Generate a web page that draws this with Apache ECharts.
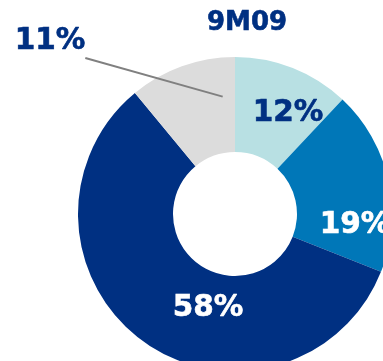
<!DOCTYPE html>
<html>
<head>
<meta charset="utf-8">
<style>
  html, body { margin: 0; padding: 0; background: #ffffff; }
  #chart { width: 383px; height: 361px; }
</style>
<script src="https://cdn.jsdelivr.net/npm/echarts@6/dist/echarts.min.js"></script>
</head>
<body>
<div id="chart"></div>
<script>
// Share breakdown for 9M09
const periodTitle = '9M09';
const segmentNames = ['Segment A', 'Segment B', 'Segment C', 'Segment D'];
const segmentShares = [12, 19, 58, 11];

const palette = ['#b8e0e3', '#0077b8', '#003082', '#dcdcdc'];
const labelColors = ['#003082', '#ffffff', '#ffffff', '#003082'];

// Ring geometry (pixels)
const cx = 235, cy = 214, rInner = 62, rOuter = 157;

// Hand-placed label centres, relative to the ring centre
const labelOffsets = [[53, -101], [120, 11], [-27, 94], [-185, -173]];

const font = '"DejaVu Sans", Verdana, sans-serif';
const labelSize = 29.5;

const chart = echarts.init(document.getElementById('chart'), null, { renderer: 'canvas' });

// Leader line for the small outside label: from the label's lower-right
// corner to a point inside its slice (6 degrees left of twelve o'clock).
const outsideIdx = 3;
const textWidth = echarts.format.getTextRect
  ? echarts.format.getTextRect(segmentShares[outsideIdx] + '%', 'bold ' + labelSize + 'px ' + font).width
  : 70;
const lineStart = [cx + labelOffsets[outsideIdx][0] + textWidth / 2, cy + labelOffsets[outsideIdx][1] + 17];
const endAngle = (90 + 6) * Math.PI / 180;
const lineEnd = [cx + Math.cos(endAngle) * 118, cy - Math.sin(endAngle) * 118];

chart.setOption({
  animation: false,
  title: {
    text: periodTitle,
    left: 242,
    top: 5,
    textAlign: 'center',
    textStyle: {
      fontFamily: font, fontWeight: 'bold', fontSize: 26, color: '#003082',
      textBorderColor: '#003082', textBorderWidth: 0.6
    }
  },
  graphic: [{
    type: 'polyline',
    z: 10,
    silent: true,
    shape: { points: [lineStart, lineEnd] },
    style: { stroke: '#808080', lineWidth: 2, fill: null }
  }],
  series: [{
    type: 'pie',
    center: [cx, cy],
    radius: [rInner, rOuter],
    startAngle: 90,
    clockwise: true,
    avoidLabelOverlap: false,
    silent: true,
    z: 2,
    data: segmentShares.map((v, i) => ({
      name: segmentNames[i],
      value: v,
      itemStyle: { color: palette[i] },
      label: {
        show: true,
        position: i === outsideIdx ? 'outside' : 'inside',
        formatter: '{c}%',
        color: labelColors[i],
        fontFamily: font,
        fontWeight: 'bold',
        fontSize: labelSize,
        textBorderColor: labelColors[i],
        textBorderWidth: 0.6
      },
      labelLine: { show: false }
    })),
    labelLayout: function (params) {
      const [dx, dy] = labelOffsets[params.dataIndex];
      return {
        x: cx + dx,
        y: cy + dy,
        align: 'center',
        verticalAlign: 'middle'
      };
    }
  }]
});
</script>
</body>
</html>
